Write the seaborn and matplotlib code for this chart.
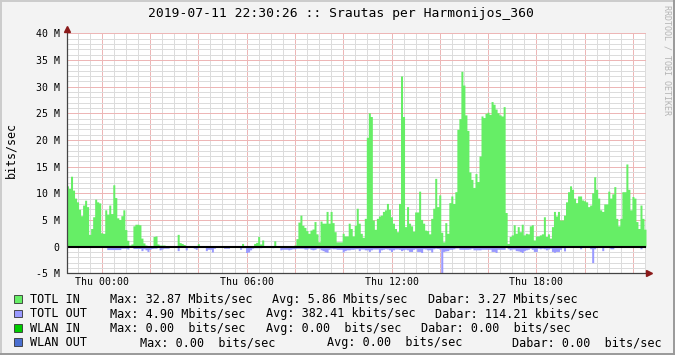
import numpy as np
import pandas as pd
import seaborn as sns
import matplotlib
matplotlib.use("Agg")
import matplotlib.pyplot as plt
from matplotlib.patches import Rectangle
from matplotlib.lines import Line2D

# ---------------- data (Mbit/s, 5-minute samples, Wed 22:30 -> Thu 22:30) ----------------
totl_in = [
    11.4, 10.9, 13.2, 10.6, 9.1, 8.4, 7.0, 5.8, 7.8, 8.7,
    7.5, 2.3, 3.4, 5.6, 8.9, 8.4, 8.2, 2.6, 2.5, 6.9,
    6.1, 7.8, 6.2, 11.6, 9.2, 5.4, 5.1, 5.8, 6.9, 3.2,
    1.2, 0.3, 0.5, 3.9, 4.2, 4.2, 4.1, 1.6, 0.7, 0.3,
    0.2, 0.1, 0.0, 1.9, 2.0, 0.5, 0.3, 0.3, 0.3, 0.0,
    0.0, 0.0, 0.0, 0.0, 0.0, 2.3, 0.75, 0.6, 0.4, 0.2,
    0.0, 0.0, 0.0, 0.0, 0.0, 0.55, 0.0, 0.0, 0.0, 0.0,
    0.0, 0.0, 0.0, 0.0, 0.0, 0.0, 0.0, 0.0, 0.0, 0.0,
    0.0, 0.0, 0.0, 0.0, 0.0, 0.0, 0.0, 0.6, 0.0, 0.0,
    0.0, 0.0, 0.0, 0.6, 0.8, 1.9, 0.5, 1.25, 0.0, 0.0,
    0.0, 0.0, 0.0, 1.1, 0.0, 0.0, 0.0, 0.0, 0.0, 0.0,
    0.0, 0.0, 0.0, 0.3, 1.5, 4.6, 5.9, 4.0, 3.6, 3.0,
    2.5, 3.1, 3.3, 4.7, 2.4, 0.9, 4.8, 4.4, 4.4, 6.6,
    4.4, 6.6, 4.5, 2.8, 0.9, 0.9, 0.9, 2.5, 2.0, 2.0,
    4.4, 3.4, 2.0, 4.0, 7.2, 4.4, 2.5, 1.75, 5.3, 20.5,
    25.1, 24.4, 5.0, 3.25, 5.3, 5.75, 5.9, 6.6, 6.9, 8.1,
    7.0, 5.6, 4.4, 3.4, 2.8, 8.1, 32.0, 24.4, 3.75, 7.5,
    4.4, 3.9, 2.9, 6.5, 6.5, 10.4, 5.1, 4.4, 3.1, 3.0,
    2.4, 5.3, 7.2, 12.8, 7.5, 9.7, 2.7, 0.9, 4.5, 2.5,
    8.25, 9.5, 8.1, 10.3, 22.0, 24.0, 32.87, 30.3, 24.7, 21.8,
    14.0, 12.6, 11.1, 13.7, 12.2, 17.0, 24.5, 24.2, 25.0, 25.2,
    24.8, 27.2, 26.7, 25.8, 25.1, 24.7, 24.5, 26.25, 6.4, 0.6,
    1.9, 2.2, 4.1, 2.5, 3.75, 2.8, 4.2, 2.2, 2.5, 2.4,
    3.9, 4.1, 1.25, 2.0, 2.0, 2.2, 2.4, 5.6, 1.9, 2.4,
    1.6, 3.75, 6.6, 5.75, 6.6, 5.0, 5.0, 5.9, 8.4, 10.3,
    11.4, 10.75, 9.1, 8.25, 9.5, 9.5, 8.75, 8.6, 8.4, 7.5,
    7.8, 10.1, 13.1, 10.75, 9.1, 6.9, 6.6, 8.0, 8.0, 10.4,
    9.1, 9.9, 11.25, 5.3, 3.9, 5.3, 10.3, 10.3, 15.5, 10.75,
    6.9, 9.4, 9.1, 4.7, 3.4, 7.8, 5.3, 3.27,
]

totl_out = [
    0.1, 0.1, 0.1, 0.1, 0.1, 0.1, 0.1, 0.1, 0.1, 0.1,
    0.1, 0.1, 0.1, 0.1, 0.1, 0.1, 0.1, 0.1, 0.1, 0.1,
    0.55, 0.55, 0.55, 0.55, 0.55, 0.55, 0.55, 0.3, 0.3, 0.3,
    0.45, 0.1, 0.1, 0.35, 0.35, 0.35, 0.35, 0.75, 0.4, 0.6,
    0.9, 0.5, 0.35, 0.3, 0.3, 0.1, 0.6, 0.45, 0.3, 0.3,
    0.3, 0.05, 0.05, 0.05, 0.05, 0.75, 0.1, 0.1, 0.1, 0.6,
    0.05, 0.05, 0.05, 0.3, 0.5, 0.05, 0.05, 0.05, 0.05, 0.75,
    0.5, 0.5, 1.0, 0.3, 0.05, 0.05, 0.05, 0.05, 0.3, 0.3,
    0.3, 0.05, 0.05, 0.05, 0.05, 0.05, 0.5, 0.2, 0.2, 1.1,
    1.0, 0.6, 0.3, 0.2, 0.2, 0.2, 0.2, 0.15, 0.15, 0.15,
    0.15, 0.05, 0.2, 0.1, 0.1, 0.1, 0.6, 0.5, 0.5, 0.5,
    0.6, 0.5, 0.4, 0.4, 0.3, 0.3, 0.3, 0.3, 0.45, 0.45,
    0.3, 0.5, 0.6, 0.5, 0.3, 0.3, 0.6, 0.75, 0.95, 1.05,
    0.5, 0.3, 0.4, 0.4, 0.5, 0.5, 0.5, 1.0, 0.75, 0.6,
    0.6, 0.5, 0.5, 0.4, 0.4, 0.75, 0.45, 0.45, 0.6, 0.6,
    0.9, 0.6, 0.45, 0.45, 0.45, 1.1, 0.6, 0.5, 0.4, 0.45,
    0.6, 0.9, 0.6, 0.45, 0.45, 0.5, 0.75, 0.6, 0.5, 0.6,
    0.9, 0.9, 0.5, 0.4, 0.9, 0.9, 1.1, 0.4, 0.45, 0.6,
    0.6, 1.0, 0.4, 0.3, 0.35, 0.45, 4.9, 0.9, 0.8, 0.75,
    0.5, 0.5, 0.4, 0.25, 0.25, 0.5, 0.5, 0.5, 0.5, 0.5,
    0.45, 0.3, 0.6, 0.6, 0.6, 0.6, 0.5, 0.5, 0.5, 0.5,
    0.5, 0.9, 0.9, 1.1, 0.5, 0.5, 0.5, 0.5, 0.0, 0.4,
    0.6, 0.45, 0.45, 0.75, 0.8, 0.9, 1.1, 0.75, 0.6, 0.5,
    0.3, 0.5, 0.9, 0.9, 0.3, 0.4, 0.3, 0.4, 0.6, 0.45,
    0.3, 0.9, 1.05, 0.9, 0.9, 0.5, 0.2, 0.8, 0.15, 0.15,
    0.15, 0.15, 0.15, 0.15, 0.15, 0.4, 0.15, 0.15, 0.15, 0.15,
    0.4, 3.0, 0.4, 0.1, 0.1, 0.1, 0.75, 0.1, 0.1, 0.1,
    0.4, 0.4, 0.1, 0.1, 0.1, 0.1, 0.1, 0.1, 0.1, 0.1,
    0.1, 0.1, 0.1, 0.1, 0.1, 0.4, 0.1, 0.11,
]

y_tick_values = [-5, 0, 5, 10, 15, 20, 25, 30, 35, 40]
y_tick_labels = ["-5 M", "0", "5 M", "10 M", "15 M", "20 M", "25 M", "30 M", "35 M", "40 M"]
x_label_hours = [0, 6, 12, 18]
x_tick_labels = ["Thu 00:00", "Thu 06:00", "Thu 12:00", "Thu 18:00"]

title = "2019-07-11 22:30:26 :: Srautas per Harmonijos_360"
legend_names = ["TOTL IN", "TOTL OUT", "WLAN IN", "WLAN OUT"]
legend_max = ["Max: 32.87 Mbits/sec", "Max: 4.90 Mbits/sec", "Max: 0.00  bits/sec", "Max: 0.00  bits/sec"]
legend_avg = ["Avg: 5.86 Mbits/sec", "Avg: 382.41 kbits/sec", "Avg: 0.00  bits/sec", "Avg: 0.00  bits/sec"]
legend_cur = ["Dabar: 3.27 Mbits/sec", "Dabar: 114.21 kbits/sec", "Dabar: 0.00  bits/sec", "Dabar: 0.00  bits/sec"]
legend_colors = ["#66EE66", "#9999FF", "#00CC00", "#4A6FD0"]

# ---------------- layout ----------------
W, H = 675, 355
FONT = "DejaVu Sans Mono"
sns.set_theme(style="white")
plt.rcParams["font.family"] = [FONT, "DejaVu Sans"]

fig = plt.figure(figsize=(W / 100, H / 100), dpi=100, facecolor="#F3F3F3")

def fx(px):
    return px / W

def fy(py):
    return 1 - py / H

left_px, right_px, top_px, bot_px = 66.5, 646.0, 33.3, 273.3
ax = fig.add_axes([fx(left_px), fy(bot_px), fx(right_px - left_px), (bot_px - top_px) / H])
ax.set_facecolor("white")

step_h = 5 / 60.0
start_h = -1.46
n = len(totl_in)
edges = [float(start_h + k * step_h) for k in range(n + 1)]
centers = [(edges[k] + edges[k + 1]) / 2 for k in range(n)]
df = pd.DataFrame({"t": centers, "in": totl_in, "out": [-v for v in totl_out]})

sns.histplot(data=df, x="t", weights="in", bins=edges, element="step", fill=True,
             color=legend_colors[0], alpha=1, linewidth=0, ax=ax, zorder=2)
sns.histplot(data=df, x="t", weights="out", bins=edges, element="step", fill=True,
             color=legend_colors[1], alpha=1, linewidth=0, ax=ax, zorder=2)

xmin, xmax = start_h, start_h + 24.0
ax.set_xlim(xmin, xmax)
ax.set_ylim(-5, 40)
ax.set_xlabel("")
ax.set_ylabel("")
for s in ax.spines.values():
    s.set_visible(False)

# ticks / grid
major_x = np.arange(0, 23, 2)
minor_x = np.arange(-1.0, 22.51, 0.5)
ax.set_xticks(major_x)
ax.set_xticklabels([x_tick_labels[x_label_hours.index(h)] if h in x_label_hours else "" for h in major_x])
ax.set_xticks(minor_x, minor=True)
ax.set_yticks(y_tick_values)
ax.set_yticklabels(y_tick_labels)
ax.set_yticks(np.arange(-5, 41, 1), minor=True)
ax.set_axisbelow(True)

dot = (0, (1, 1))
ax.grid(which="minor", color="#DCDCDC", linestyle=dot, linewidth=0.72, antialiased=False)
ax.grid(which="major", color="#EDB6B6", linestyle=dot, linewidth=0.72, antialiased=False)

ax.tick_params(axis="both", which="major", labelsize=7.1, colors="#333333", labelcolor="black",
               length=2.2, width=0.7, direction="out")
ax.tick_params(axis="both", which="minor", length=1.2, width=0.7, colors="#666666")
ax.tick_params(axis="y", which="major", pad=2.6)
ax.tick_params(axis="x", which="major", pad=0.8)
for lab in ax.get_xticklabels() + ax.get_yticklabels():
    lab.set_fontfamily(FONT)

# zero line
ax.axhline(0, color="black", linewidth=1.5, zorder=3)

# axes with arrows
axis_col = "#444444"
arrow_col = "#8B1A1A"
ax.add_line(Line2D([xmin, xmin], [-5, 40.6], color=axis_col, lw=0.9, clip_on=False, zorder=4))
ax.add_line(Line2D([xmin, xmax + 0.05], [-5, -5], color=axis_col, lw=0.9, clip_on=False, zorder=4))
ax.plot([xmin], [40.8], marker="^", color=arrow_col, markersize=4.2, clip_on=False, zorder=5)
ax.plot([xmax + 0.12], [-5], marker=">", color=arrow_col, markersize=4.2, clip_on=False, zorder=5)

# ---------------- texts ----------------
fig.text(fx(341), fy(17.5), title, ha="center", va="baseline", fontsize=9.4,
         family=FONT, color="black")
fig.text(fx(10.5), fy(150), "bits/sec", ha="center", va="center", rotation=90,
         fontsize=8.4, family=FONT, color="black")
fig.text(fx(666.5), fy(5), "RRDTOOL / TOBI OETIKER", ha="center", va="top", rotation=270,
         fontsize=6.0, family=FONT, color="#B4B4B4")

row_base = [303.0, 317.3, 331.7, 346.0]
max_x = [109.8, 109.8, 109.8, 139.9]
avg_x = [272.5, 265.6, 265.6, 327.2]
cur_x = [428.3, 434.8, 421.0, 512.3]
for i in range(4):
    yb = row_base[i]
    fig.patches.append(Rectangle((fx(14.2), fy(yb)), fx(7.6), 7.8 / H, transform=fig.transFigure,
                                 facecolor=legend_colors[i], edgecolor="#333333", linewidth=0.6))
    for xx, txt in [(30.0, legend_names[i]), (max_x[i], legend_max[i]),
                    (avg_x[i], legend_avg[i]), (cur_x[i], legend_cur[i])]:
        fig.text(fx(xx), fy(yb), txt, ha="left", va="baseline", fontsize=8.5,
                 family=FONT, color="black")

# 3-D frame like rrdtool
fig.add_artist(Line2D([0, 1], [fy(0.5), fy(0.5)], transform=fig.transFigure, color="#CBCBCB", lw=1.4))
fig.add_artist(Line2D([fx(0.5), fx(0.5)], [0, 1], transform=fig.transFigure, color="#CBCBCB", lw=1.4))
fig.add_artist(Line2D([0, 1], [fy(354.3), fy(354.3)], transform=fig.transFigure, color="#999999", lw=1.4))
fig.add_artist(Line2D([fx(674.3), fx(674.3)], [0, 1], transform=fig.transFigure, color="#999999", lw=1.4))

fig.savefig("out.png", dpi=100, facecolor=fig.get_facecolor())
